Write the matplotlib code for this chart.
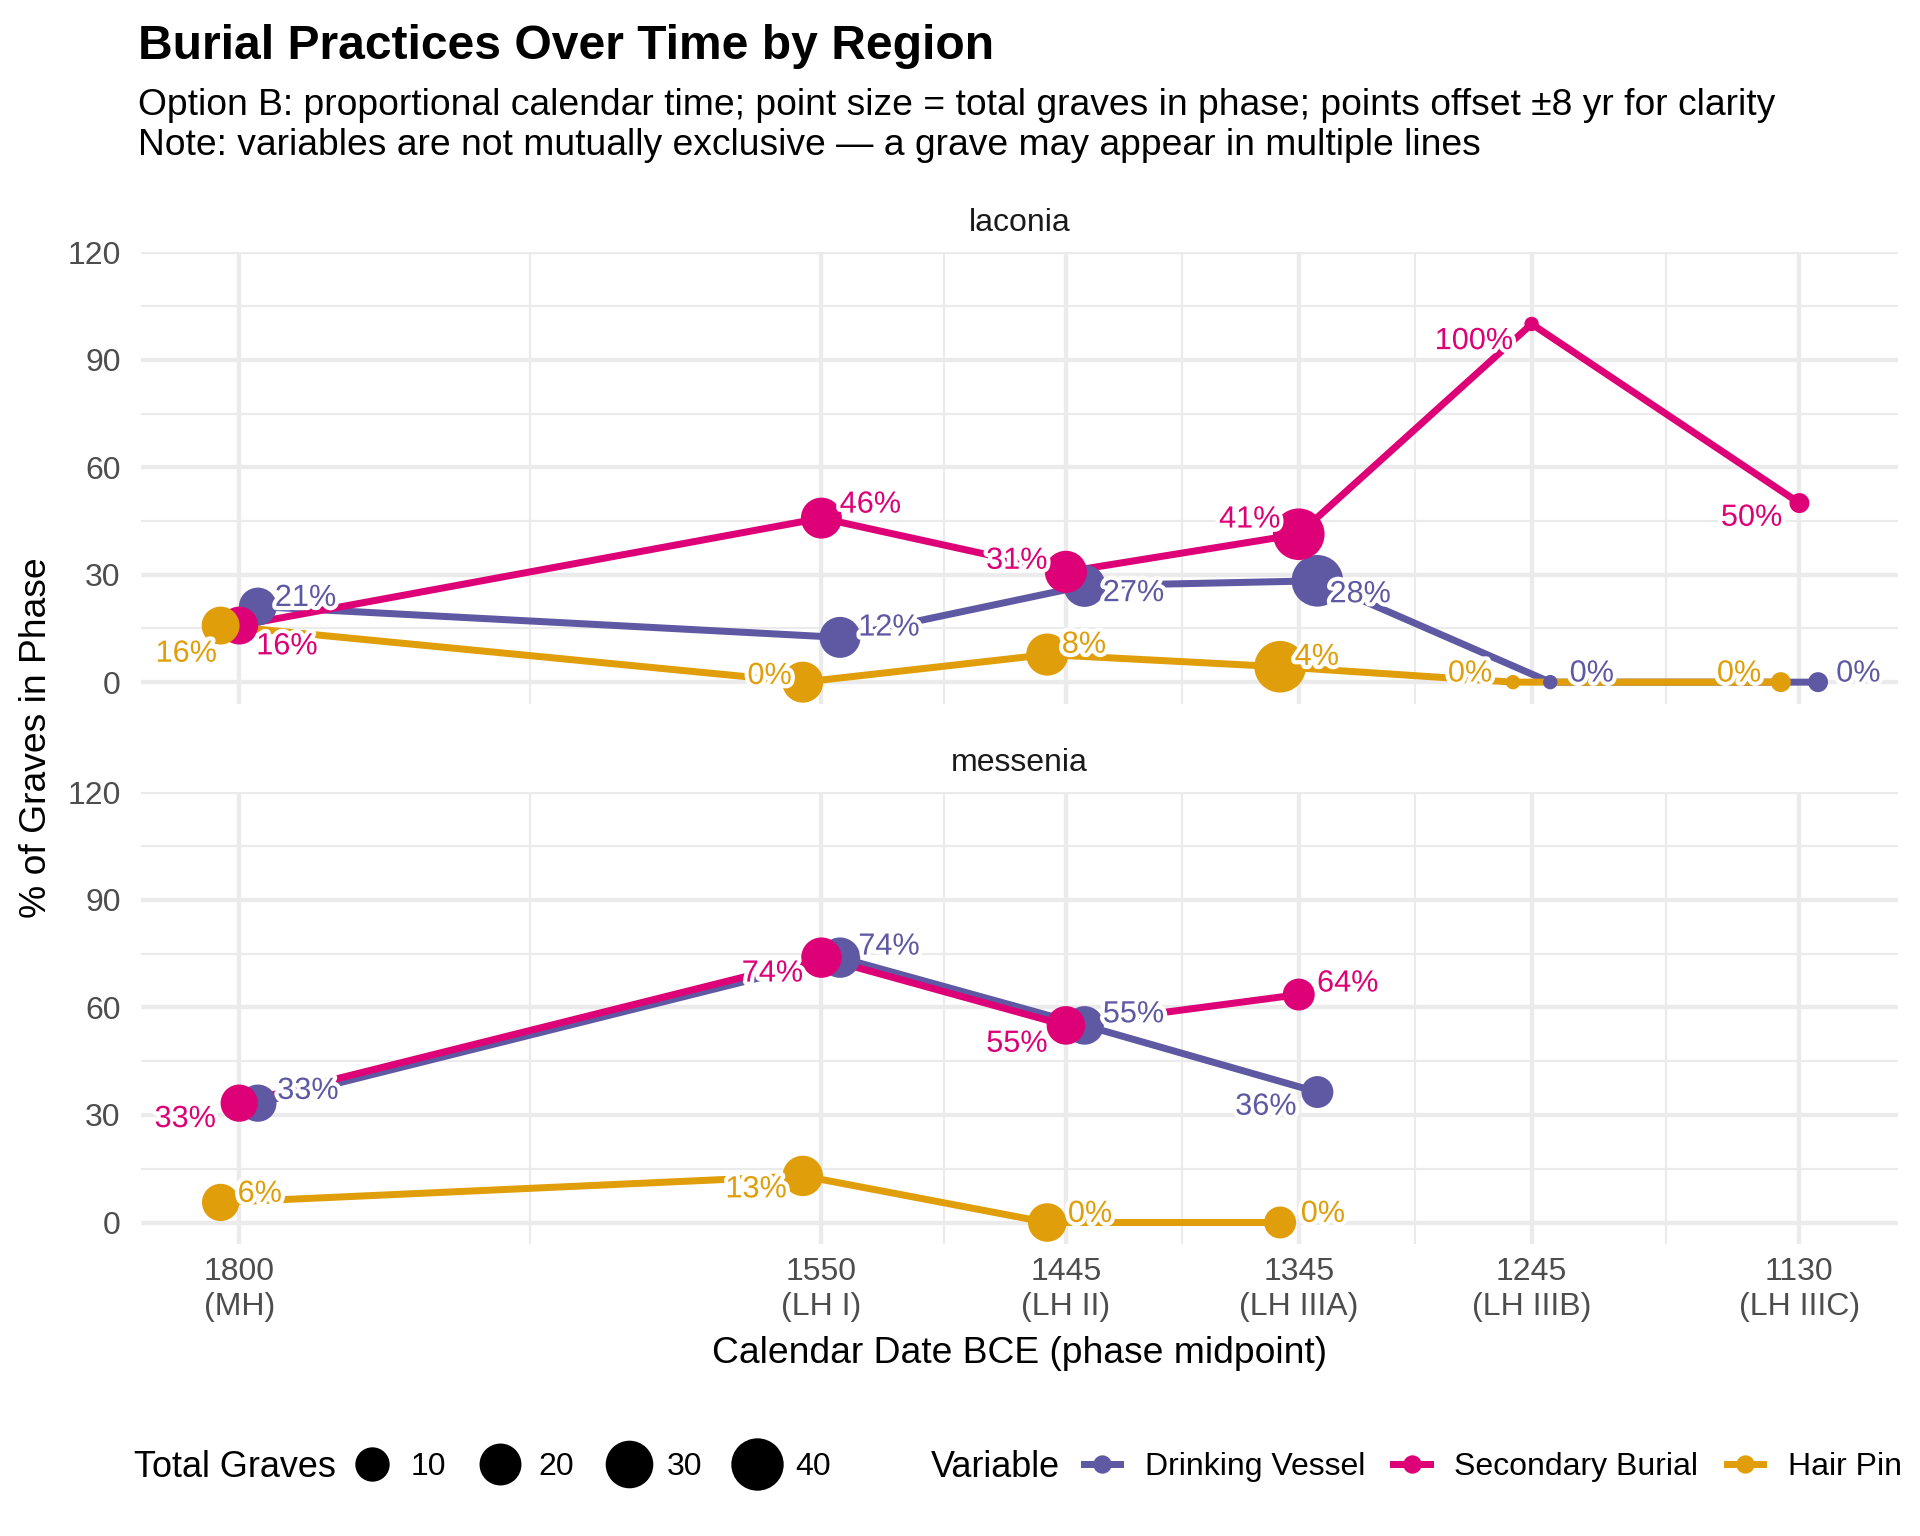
import numpy as np
import matplotlib
matplotlib.use('Agg')
import matplotlib.pyplot as plt
import matplotlib.patheffects as pe
from matplotlib.lines import Line2D

plt.rcParams['font.family'] = ['Liberation Sans', 'DejaVu Sans']

# Phases (calendar midpoint BCE) and names
phases = [1800, 1550, 1445, 1345, 1245, 1130]
phase_names = ['MH', 'LH I', 'LH II', 'LH IIIA', 'LH IIIB', 'LH IIIC']

variables = ['Drinking Vessel', 'Secondary Burial', 'Hair Pin']
colors = ['#5E59A2', '#DD0077', '#E09E0A']
shift = [-8, 0, 8]  # yr offset for clarity

# laconia
laconia_total = [19, 24, 26, 46, 1, 2]
laconia_dv = [21.1, 12.5, 26.9, 28.3, 0, 0]
laconia_sb = [15.8, 45.8, 30.8, 41.3, 100, 50]
laconia_hp = [15.8, 0, 7.7, 4.3, 0, 0]

# messenia
messenia_total = [18, 23, 20, 11]
messenia_dv = [33.3, 73.9, 55.0, 36.4]
messenia_sb = [33.3, 73.9, 55.0, 63.6]
messenia_hp = [5.6, 13.0, 0, 0]

regions = {
    'laconia': (laconia_total, [laconia_dv, laconia_sb, laconia_hp]),
    'messenia': (messenia_total, [messenia_dv, messenia_sb, messenia_hp]),
}

# label nudges (reference px: right, down) - mimics the repel layout
label_nudge = {
    'laconia': [
        [(39, -7), (40, -8), (40, 6), (35, 11), (34, -7), (33, -7)],
        [(39, 17), (40, -11), (-40, -9), (-40, -12), (-47, 14), (-39, 12)],
        [(-28, 23), (-27, -5), (30, -8), (30, -8), (-35, -7), (-34, -7)],
    ],
    'messenia': [
        [(41, -10), (40, -9), (40, -9), (-42, 12)],
        [(-44, 13), (-40, 13), (-40, 15), (40, -9)],
        [(32, -7), (-38, 11), (35, -7), (35, -7)],
    ],
}
PX2PT = (1920 / 1568) * 72 / 240

all_n = laconia_total + messenia_total
nmin, nmax = min(all_n), max(all_n)


def diam_pt(n):
    # area-style size scale, diameter in points
    return (14.4 + 37.2 * np.sqrt((n - nmin) / (nmax - nmin))) * 0.3


fig = plt.figure(figsize=(8, 6.4), dpi=240)

axes_pos = {
    'laconia': [0.0733, 0.5419, 0.9152, 0.2938],
    'messenia': [0.0733, 0.1901, 0.9152, 0.2940],
}

minor_x = [(a + b) / 2 for a, b in zip(phases[:-1], phases[1:])]

for reg, (total, series) in regions.items():
    ax = fig.add_axes(axes_pos[reg])
    k = len(total)
    for i, (var, col, vals) in enumerate(zip(variables, colors, series)):
        xs = [p + shift[i] for p in phases[:k]]
        ax.plot(xs, vals, color=col, lw=2.1, zorder=2, solid_capstyle='butt')
    for i, (var, col, vals) in enumerate(zip(variables, colors, series)):
        xs = [p + shift[i] for p in phases[:k]]
        ax.scatter(xs, vals, s=[diam_pt(n) ** 2 for n in total], color=col,
                   linewidths=0, zorder=3 + i * 0.01)
    for i, (var, col, vals) in enumerate(zip(variables, colors, series)):
        xs = [p + shift[i] for p in phases[:k]]
        for j, (x, v) in enumerate(zip(xs, vals)):
            dx, dy = label_nudge[reg][i][j]
            ax.annotate(f"{v:.0f}%", (x, v), xytext=(dx * PX2PT, -dy * PX2PT),
                        textcoords='offset points', ha='center', va='center',
                        fontsize=9.2, color=col, zorder=5, annotation_clip=False,
                        path_effects=[pe.withStroke(linewidth=2.5, foreground='white')])

    ax.set_xlim(1842.3, 1087.7)
    ax.set_ylim(-6, 120)
    ax.set_xticks(phases)
    ax.set_xticks(minor_x, minor=True)
    ax.set_yticks([0, 30, 60, 90, 120])
    ax.set_yticks([15, 45, 75, 105], minor=True)
    ax.grid(which='major', color='#EBEBEB', lw=1.3)
    ax.grid(which='minor', color='#EBEBEB', lw=0.65)
    ax.set_axisbelow(True)
    for s in ax.spines.values():
        s.set_visible(False)
    ax.tick_params(which='both', length=0)
    ax.tick_params(axis='y', labelsize=9.6, labelcolor='#4D4D4D', pad=6)
    ax.tick_params(axis='x', labelsize=9.6, labelcolor='#4D4D4D', pad=4)
    ax.set_title(reg, fontsize=9.6, color='#1A1A1A', pad=6.4)
    if reg == 'messenia':
        ax.set_xticklabels([f"{p}\n({nm})" for p, nm in zip(phases, phase_names)])
    else:
        ax.tick_params(axis='x', labelbottom=False)

fig.text(0.072, 0.970, 'Burial Practices Over Time by Region', fontsize=14.4,
         fontweight='bold', va='center', ha='left')
fig.text(0.072, 0.931, 'Option B: proportional calendar time; point size = total graves in phase; '
         'points offset \u00b18 yr for clarity', fontsize=11.2, va='center', ha='left')
fig.text(0.072, 0.905, 'Note: variables are not mutually exclusive \u2014 a grave may appear in multiple lines',
         fontsize=11.2, va='center', ha='left')

fig.text(0.531, 0.119, 'Calendar Date BCE (phase midpoint)', fontsize=11.2, ha='center', va='center')
fig.text(0.019, 0.520, '% of Graves in Phase', fontsize=11.2, rotation=90, ha='center', va='center')

# legends
fig.text(0.070, 0.0447, 'Total Graves', fontsize=10.8, va='center', ha='left')
size_breaks = [10, 20, 30, 40]
size_handles = [Line2D([0], [0], marker='o', ls='none', color='black',
                       markersize=diam_pt(n)) for n in size_breaks]
fig.legend(size_handles, [str(n) for n in size_breaks], loc='center left',
           bbox_to_anchor=(0.182, 0.0447), ncol=4, frameon=False, fontsize=9.6,
           handletextpad=0.5, columnspacing=1.0, borderaxespad=0, handlelength=1.4,
           borderpad=0)

fig.text(0.485, 0.0447, 'Variable', fontsize=10.8, va='center', ha='left')
var_handles = [Line2D([0], [0], color=c, lw=2.1, marker='o', markersize=4.5) for c in colors]
fig.legend(var_handles, variables, loc='center left', bbox_to_anchor=(0.5644, 0.0447),
           ncol=3, frameon=False, fontsize=9.6, handletextpad=0.76, columnspacing=0.88,
           borderaxespad=0, handlelength=1.15, borderpad=0)

fig.savefig('out.png', dpi=240, facecolor='white')
